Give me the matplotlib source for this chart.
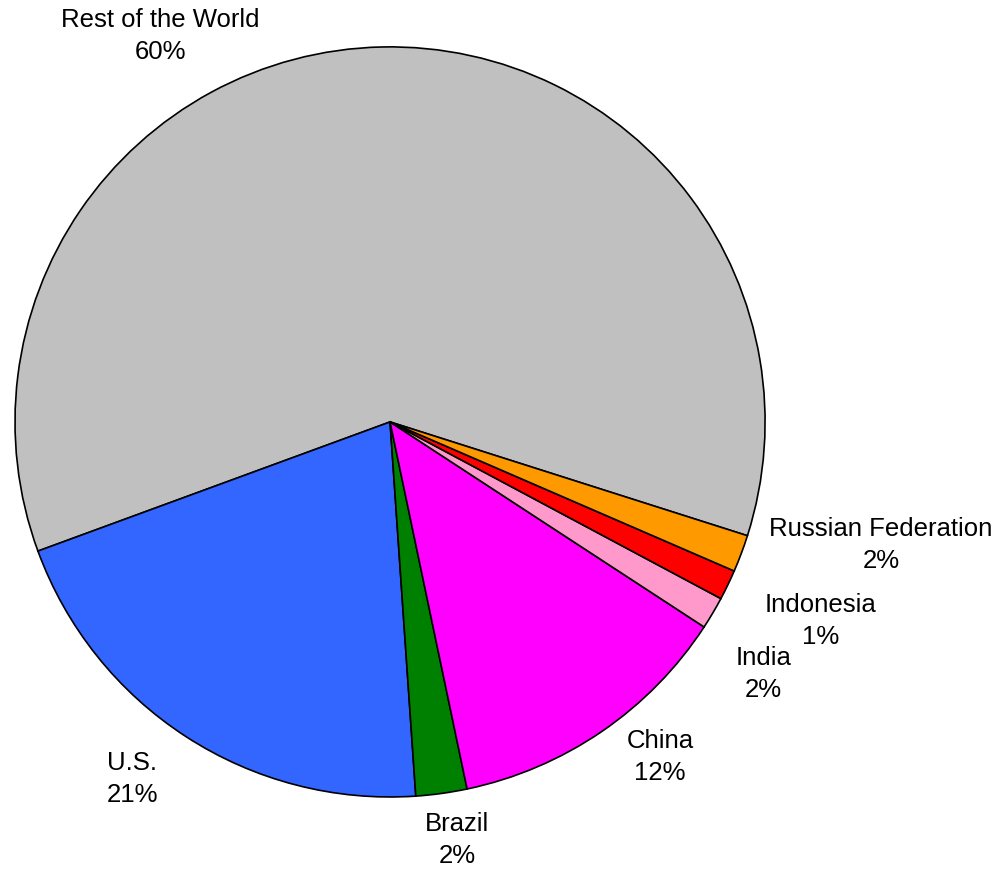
import matplotlib.pyplot as plt

# slice shares (percent), counterclockwise starting from the "Rest of the World" slice
names = ["Rest of the World", "U.S.", "Brazil", "China", "India", "Indonesia", "Russian Federation"]
shares = [60.5, 20.5, 2.2, 12.5, 1.4, 1.3, 1.6]
pct_labels = ["60%", "21%", "2%", "12%", "2%", "1%", "2%"]
colors = ["#C0C0C0", "#3366FF", "#008000", "#FF00FF", "#FF99CC", "#FF0000", "#FF9900"]

# label anchor points (in pie-radius units, relative to the centre)
label_pos = [(-0.613, 1.029), (-0.688, -0.952), (0.179, -1.115), (0.72, -0.893),
             (0.995, -0.672), (1.147, -0.531), (1.309, -0.328)]

plt.rcParams['font.family'] = ['Liberation Sans', 'DejaVu Sans']

fig = plt.figure(figsize=(9.98, 8.69), dpi=100)
ax = fig.add_axes([0, 0, 1, 1])

ax.pie(shares, colors=colors, startangle=-17.66, counterclock=True,
       wedgeprops=dict(edgecolor="black", linewidth=1.2))

for name, pct, (x, y) in zip(names, pct_labels, label_pos):
    ax.text(x, y, name + "\n" + pct, ha="center", va="center",
            fontsize=18.5, linespacing=1.4)

ax.set_xlim(-1.04, 1.621)
ax.set_ylim(-1.192, 1.125)
ax.set_aspect("equal")
ax.axis("off")

fig.savefig("out.png", dpi=100)
